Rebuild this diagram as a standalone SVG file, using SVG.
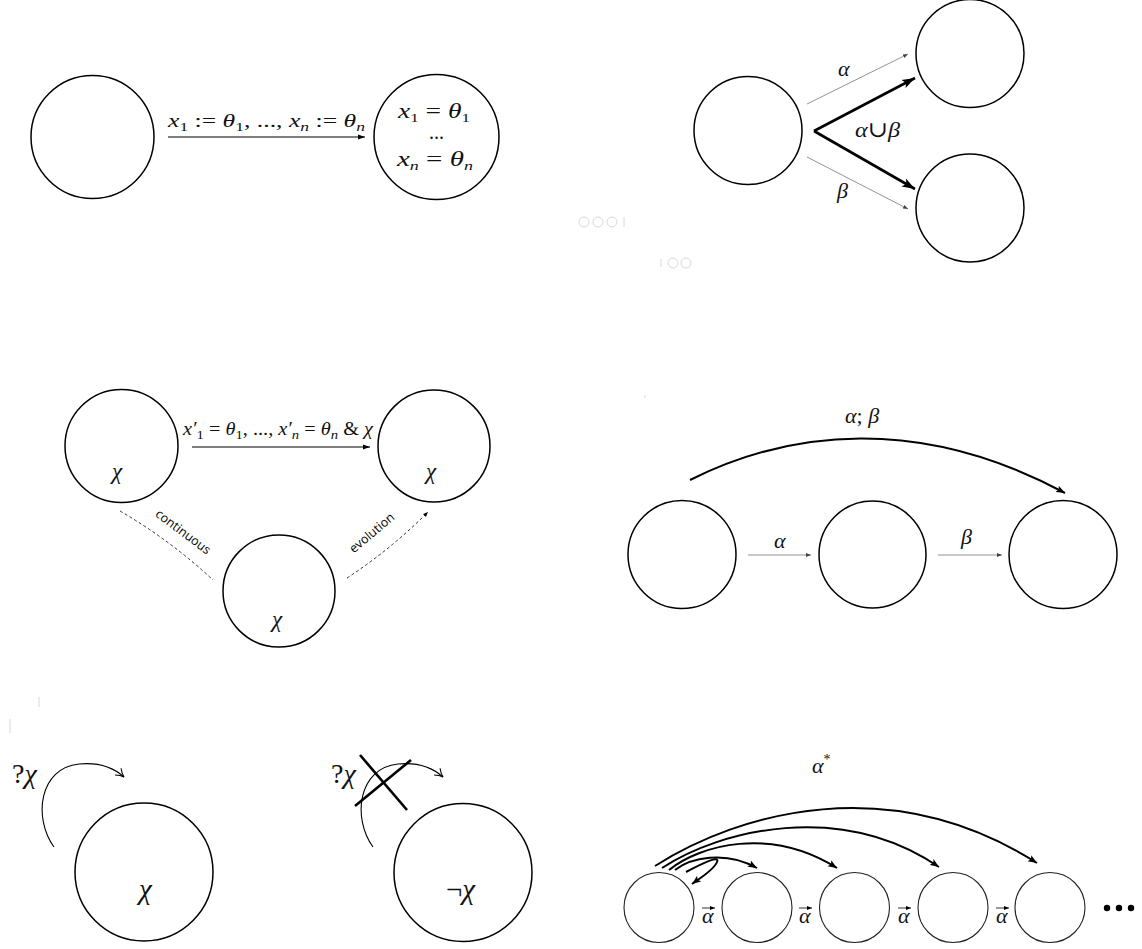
<svg xmlns="http://www.w3.org/2000/svg" width="1142" height="949" viewBox="0 0 1142 949">
<style>
.node{fill:none;stroke:#000;stroke-width:1.5}
.node6{fill:none;stroke:#222;stroke-width:1.1}
.m{font-family:"Liberation Serif","DejaVu Serif",serif;font-style:italic;fill:#111}
.r{font-style:normal}
.sub{font-size:13px}
.thin{stroke:#000;stroke-width:1.2;fill:none}
.gray{stroke:#777;stroke-width:0.8;fill:none}
.thick{stroke:#000;stroke-width:2.6;fill:none}
.dash{stroke:#333;stroke-width:1;stroke-dasharray:3 2.5;fill:none}
.curve{stroke:#000;stroke-width:2;fill:none}
.hookl{stroke:#000;stroke-width:1.1;fill:none}
.cross{stroke:#000;stroke-width:2.6}
.sans{font-family:"Open Sans","Liberation Sans",sans-serif;font-size:12.5px;fill:#000}
.ui{fill:none;stroke:#d8d8d8;stroke-width:1}
</style>
<defs>
<marker id="ah" markerUnits="userSpaceOnUse" markerWidth="8" markerHeight="6" refX="7" refY="3" orient="auto"><path d="M0,0.5 L7,3 L0,5.5 Z" fill="#000"/></marker>
<marker id="ahg" markerUnits="userSpaceOnUse" markerWidth="6" markerHeight="5" refX="5" refY="2.5" orient="auto"><path d="M0,0.5 L5,2.5 L0,4.5 Z" fill="#444"/></marker>
<marker id="ahb" markerUnits="userSpaceOnUse" markerWidth="14" markerHeight="10" refX="13" refY="5" orient="auto"><path d="M0,0.5 L13,5 L0,9.5 L3,5 Z" fill="#000"/></marker>
<marker id="ahc" markerUnits="userSpaceOnUse" markerWidth="10" markerHeight="8" refX="9" refY="4" orient="auto"><path d="M0,0.5 L9,4 L0,7.5 L2,4 Z" fill="#000"/></marker>
<marker id="hook" markerUnits="userSpaceOnUse" markerWidth="12" markerHeight="12" refX="10" refY="6" orient="auto"><path d="M2,1.5 Q6,5 10,6 Q6,7 2,10.5" fill="none" stroke="#000" stroke-width="1.1"/></marker>
<marker id="tiny" markerUnits="userSpaceOnUse" markerWidth="6" markerHeight="5" refX="5" refY="2.5" orient="auto"><path d="M0,0.5 L5,2.5 L0,4.5 Z" fill="#000"/></marker>
</defs>

<!-- faint artifacts -->
<g id="artifacts">
<circle class="ui" cx="584" cy="222" r="5"/><circle class="ui" cx="598" cy="222" r="5"/><circle class="ui" cx="612" cy="222" r="5"/><path class="ui" d="M624,217 v10"/>
<circle class="ui" cx="673" cy="263" r="5"/><circle class="ui" cx="686" cy="263" r="5"/><path class="ui" d="M661,259 v8"/>
<path class="ui" d="M39,697 v10 M10,719 v14 M645,395 v3"/>
</g>

<!-- Panel 1 -->
<g id="p1-s0"><circle class="node" cx="92.5" cy="137" r="61.5"/></g>
<g id="p1-s1"><circle class="node" cx="436.5" cy="137" r="62.5"/>
<text class="m" x="398" y="118" font-size="21" textLength="72" lengthAdjust="spacingAndGlyphs">x<tspan class="sub r" dy="4">1</tspan><tspan class="r" dy="-4"> = </tspan>θ<tspan class="sub r" dy="4">1</tspan></text>
<text class="m r" x="436.5" y="139" font-size="20" text-anchor="middle">...</text>
<text class="m" x="397" y="166" font-size="21" textLength="76" lengthAdjust="spacingAndGlyphs">x<tspan class="sub" dy="4">n</tspan><tspan class="r" dy="-4"> = </tspan>θ<tspan class="sub" dy="4">n</tspan></text>
</g>

<!-- Panel 2 -->
<g id="p2-s0"><circle class="node" cx="748" cy="130.5" r="54"/></g>
<g id="p2-s1"><circle class="node" cx="970" cy="53.5" r="54"/></g>
<g id="p2-s2"><circle class="node" cx="970" cy="208" r="54"/></g>

<!-- Panel 3 -->
<g id="p3-s0"><circle class="node" cx="121.5" cy="446" r="56.5"/><text class="m" x="112" y="479" font-size="23">χ</text></g>
<g id="p3-s1"><circle class="node" cx="434" cy="446" r="56"/><text class="m" x="426" y="479" font-size="23">χ</text></g>
<g id="p3-s2"><circle class="node" cx="279" cy="591" r="56"/><text class="m" x="272" y="627" font-size="23">χ</text></g>

<!-- Panel 4 -->
<g id="p4-s0"><circle class="node" cx="682" cy="554.5" r="54"/></g>
<g id="p4-s1"><circle class="node" cx="872.5" cy="554.5" r="53.5"/></g>
<g id="p4-s2"><circle class="node" cx="1063" cy="554.5" r="54"/></g>

<!-- Panel 5 -->
<g id="p5-s0"><circle class="node" cx="144" cy="872" r="69"/><text class="m" x="139" y="899" font-size="29">χ</text></g>
<g id="p5-s1"><circle class="node" cx="463" cy="872.5" r="69"/><text class="m" x="446" y="899" font-size="29"><tspan class="r">¬</tspan>χ</text></g>

<!-- Panel 6 -->
<g id="p6-s0"><circle class="node6" cx="659" cy="907.5" r="35"/></g>
<g id="p6-s1"><circle class="node6" cx="757" cy="907.5" r="35"/></g>
<g id="p6-s2"><circle class="node6" cx="854.5" cy="907.5" r="35"/></g>
<g id="p6-s3"><circle class="node6" cx="953" cy="907.5" r="35"/></g>
<g id="p6-s4"><circle class="node6" cx="1050" cy="907.5" r="35"/></g>
<g id="p6-dots"><circle cx="1107" cy="908" r="3.2"/><circle cx="1119" cy="908" r="3.2"/><circle cx="1131" cy="908" r="3.2"/></g>

<g id="connectors">
<!-- P1 -->
<line class="thin" x1="168" y1="137" x2="365" y2="137" marker-end="url(#ah)"/>
<!-- P2 -->
<line class="gray" x1="807" y1="104" x2="908" y2="54" marker-end="url(#ahg)"/>
<line class="gray" x1="807" y1="157" x2="908" y2="209" marker-end="url(#ahg)"/>
<line class="thick" x1="814" y1="131" x2="915" y2="78" marker-end="url(#ahb)"/>
<line class="thick" x1="814" y1="131" x2="915" y2="189" marker-end="url(#ahb)"/>
<!-- P3 -->
<line class="thin" x1="192" y1="447" x2="370" y2="447" marker-end="url(#ah)"/>
<path class="dash" d="M120,511 Q170,540 213,580"/>
<path class="dash" d="M347,578 Q390,550 428,512" marker-end="url(#tiny)"/>
<!-- P4 -->
<line class="gray" x1="748" y1="555" x2="811" y2="555" marker-end="url(#ahg)"/>
<line class="gray" x1="938" y1="555" x2="1002" y2="555" marker-end="url(#ahg)"/>
<path class="curve" d="M690,480 C790,430 920,415 1065,493" marker-end="url(#ahc)"/>
<!-- P5 -->
<path class="hookl" d="M54,847 C33,818 39,768 79,764 C99,762 114,768 124,777" marker-end="url(#hook)"/>
<path class="hookl" d="M373,847 C352,818 358,768 398,764 C418,762 433,768 443,777" marker-end="url(#hook)"/>
<line class="cross" x1="360" y1="755" x2="407" y2="810"/>
<line class="cross" x1="355" y1="806" x2="411" y2="760"/>
<!-- P6 -->
<path class="curve" d="M655,866 C740,812 890,770 1037,863" marker-end="url(#ahc)"/>
<path class="curve" d="M662,868 C720,830 840,800 939,867" marker-end="url(#ahc)"/>
<path class="curve" d="M669,870 C700,845 770,826 837,868" marker-end="url(#ahc)"/>
<path class="curve" d="M675,870 C690,858 725,850 757,868" marker-end="url(#ahc)"/>
<path class="curve" d="M686,872 C705,862 720,855 717,862 C714,870 700,878 692,884" marker-end="url(#ahc)"/>
<line x1="702" y1="908" x2="715" y2="908" stroke="#000" stroke-width="0.8" marker-end="url(#tiny)"/>
<line x1="799" y1="908" x2="812" y2="908" stroke="#000" stroke-width="0.8" marker-end="url(#tiny)"/>
<line x1="898" y1="908" x2="911" y2="908" stroke="#000" stroke-width="0.8" marker-end="url(#tiny)"/>
<line x1="996" y1="908" x2="1009" y2="908" stroke="#000" stroke-width="0.8" marker-end="url(#tiny)"/>
</g>

<g id="labels">
<text class="m" x="168" y="127" font-size="19" textLength="197" lengthAdjust="spacingAndGlyphs">x<tspan class="sub r" dy="4">1</tspan><tspan class="r" dy="-4"> := </tspan>θ<tspan class="sub r" dy="4">1</tspan><tspan class="r" dy="-4">, ..., </tspan>x<tspan class="sub" dy="4">n</tspan><tspan class="r" dy="-4"> := </tspan>θ<tspan class="sub" dy="4">n</tspan></text>
<text class="m" x="838" y="76" font-size="22">α</text>
<text class="m" x="855" y="137" font-size="22" textLength="45" lengthAdjust="spacingAndGlyphs">α<tspan class="r">∪</tspan>β</text>
<text class="m" x="837" y="198" font-size="22">β</text>
<text class="m" x="183" y="435" font-size="18" textLength="190" lengthAdjust="spacingAndGlyphs">x′<tspan class="sub r" dy="4">1</tspan><tspan class="r" dy="-4"> = </tspan>θ<tspan class="sub r" dy="4">1</tspan><tspan class="r" dy="-4">, ..., </tspan>x′<tspan class="sub" dy="4">n</tspan><tspan class="r" dy="-4"> = </tspan>θ<tspan class="sub" dy="4">n</tspan><tspan class="r" dy="-4"> &amp; </tspan>χ</text>
<text class="sans" transform="translate(183,532) rotate(37)" text-anchor="middle" dy="4">continuous</text>
<text class="sans" transform="translate(372,533) rotate(-40)" text-anchor="middle" dy="4">evolution</text>
<text class="m" x="774" y="548" font-size="22">α</text>
<text class="m" x="961" y="544" font-size="22">β</text>
<text class="m" x="845" y="423" font-size="22">α<tspan class="r">;</tspan> β</text>
<text class="m r" x="12" y="783" font-size="28">?<tspan class="m">χ</tspan></text>
<text class="m r" x="331" y="783" font-size="28">?<tspan class="m">χ</tspan></text>
<text class="m" x="812" y="773" font-size="22">α<tspan class="r" font-size="14" dy="-9">*</tspan></text>
<text class="m" x="702" y="923" font-size="22">α</text>
<text class="m" x="799" y="923" font-size="22">α</text>
<text class="m" x="898" y="923" font-size="22">α</text>
<text class="m" x="996" y="923" font-size="22">α</text>
</g>
</svg>
